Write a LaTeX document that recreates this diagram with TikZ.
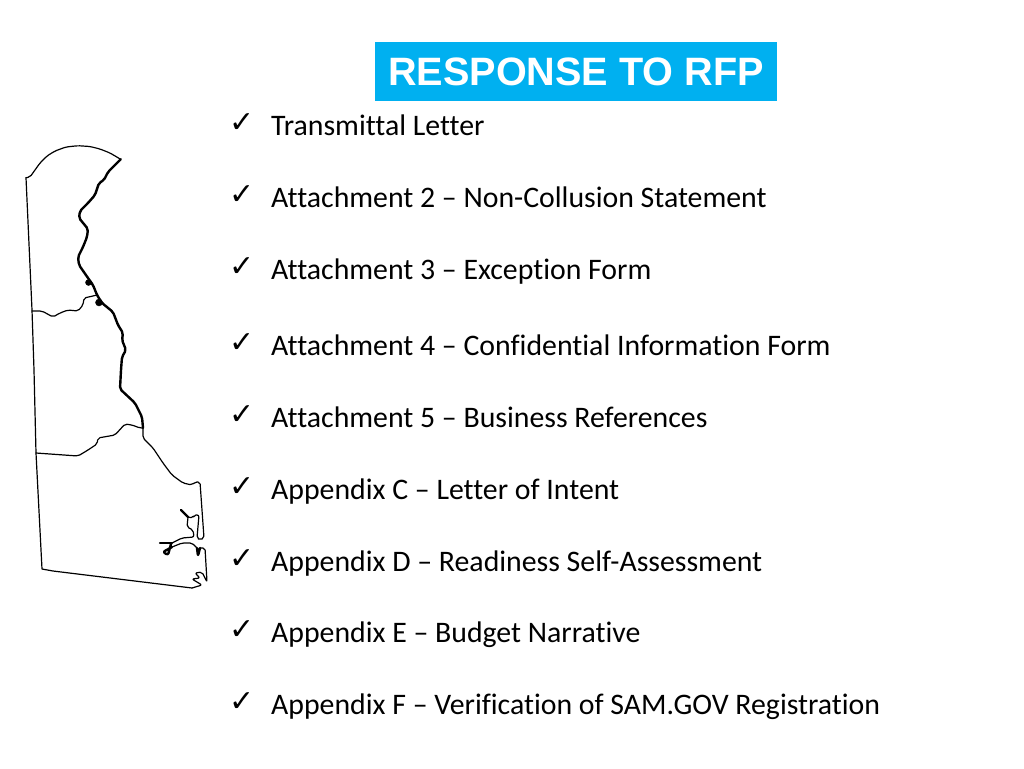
\documentclass[tikz,border=0pt]{standalone}
\usepackage{fontspec}
\setmainfont[Ligatures=NoCommon]{Carlito}
\newfontfamily\titlefont{Liberation Sans}
\newfontfamily\tickfont{DejaVu Sans}
\definecolor{titleblue}{HTML}{00B0F0}
\tikzset{
    item/.style={anchor=base west,inner sep=0pt,font=\fontsize{29.8}{32}\selectfont},
    tick/.style={anchor=base west,inner sep=0pt,font=\tickfont\fontsize{30}{32}\selectfont},
    border/.style={line width=1.2pt,line join=round,line cap=round,rounded corners=2pt},
    river/.style={line width=2.4pt,line join=round,line cap=round,rounded corners=2pt}
}
\begin{document}
\begin{tikzpicture}[x=1pt,y=-1pt]
    \useasboundingbox (0,0) rectangle (1024,768);
    % title
    \node[fill=titleblue,text=white,minimum width=402pt,minimum height=59pt,inner sep=0pt,font=\titlefont\bfseries\fontsize{39.6}{42}\selectfont] (title) at (576,71.5) {RESPONSE TO RFP};
    % list
    \node[tick] (tick1) at (229.5,132) {✓};
    \node[tick] (tick2) at (229.5,204) {✓};
    \node[tick] (tick3) at (229.5,276) {✓};
    \node[tick] (tick4) at (229.5,352) {✓};
    \node[tick] (tick5) at (229.5,424) {✓};
    \node[tick] (tick6) at (229.5,496) {✓};
    \node[tick] (tick7) at (229.5,568) {✓};
    \node[tick] (tick8) at (229.5,639) {✓};
    \node[tick] (tick9) at (229.5,711) {✓};
    \node[item] (item1) at (271,135.5) {Transmittal Letter};
    \node[item] (item2) at (271,207.5) {Attachment 2 – Non-Collusion Statement};
    \node[item] (item3) at (271,279.5) {Attachment 3 – Exception Form};
    \node[item] (item4) at (271,355.5) {Attachment 4 – Confidential Information Form};
    \node[item] (item5) at (271,427.5) {Attachment 5 – Business References};
    \node[item] (item6) at (271,499.5) {Appendix C – Letter of Intent};
    \node[item] (item7) at (271,571.5) {Appendix D – Readiness Self-Assessment};
    \node[item] (item8) at (271,642.5) {Appendix E – Budget Narrative};
    \node[item] (item9) at (271,714.5) {Appendix F – Verification of SAM.GOV Registration};
    % state outline
    \draw[border] (26,177.7) -- (30,177) -- (40,163) -- (47,156) -- (55,151) -- (66,147) -- (78,145.7) -- (90,146.5) -- (100,149) -- (110,153) -- (120.7,159.3);
    \draw[border,rounded corners=0pt] (26,177.7) -- (32,310) -- (34,370) -- (36,453) -- (42,569) -- (53,571) -- (192,588);
    \draw[river] (120.7,159.3) -- (108,172) -- (104,180) -- (99,183) -- (95,195) -- (88,203) -- (80,211) -- (79,218) -- (88,229) -- (87,237) -- (83,247) -- (78,257) -- (79,265) -- (88,278) -- (93,285) -- (97,295) -- (102,303) -- (113,312) -- (118,325) -- (123,333) -- (122,340) -- (126,350) -- (122,357) -- (121,370) -- (120,389) -- (135,403) -- (142,417) -- (143,428);
    \filldraw (88.5,282.5) circle (3pt);
    \filldraw (99,302.5) circle (3.5pt);
    % counties
    \draw[border] (32,311) -- (42,311) -- (53,317) -- (60,313) -- (68,310) -- (78,311) -- (83,305) -- (84,298) -- (93,296) -- (97,295);
    \draw[border] (36,453) -- (78,456) -- (88,450) -- (97,444) -- (98,438) -- (115,435) -- (125,424) -- (132,425) -- (140,428) -- (143,428);
    % coast
    \draw[border] (143,428) -- (143,438) -- (153,448) -- (163,463) -- (172,475) -- (183,483) -- (192,485) -- (195,482) -- (200,482) -- (204,538) -- (200,540) -- (197,538) -- (199,515) -- (194,515) -- (193,518) -- (188,517);
    \draw[river] (188,517) -- (181,510);
    \draw[border] (188,517) -- (187,527) -- (193,530) -- (194,537) -- (182,538) -- (172,543);
    \draw[river] (172,543) -- (160,543);
    \draw[river] (171,544) -- (168,555) -- (163,552) -- (172,547);
    \draw[border] (172,547) -- (182,543) -- (192,543) -- (197,548);
    \draw[river] (197,548) -- (198,556) -- (200,548);
    \draw[border] (200,548) -- (205,548) -- (207,582) -- (202,572) -- (195,573) -- (200,578) -- (192,579) -- (202,585) -- (192,588);
\end{tikzpicture}
\end{document}
